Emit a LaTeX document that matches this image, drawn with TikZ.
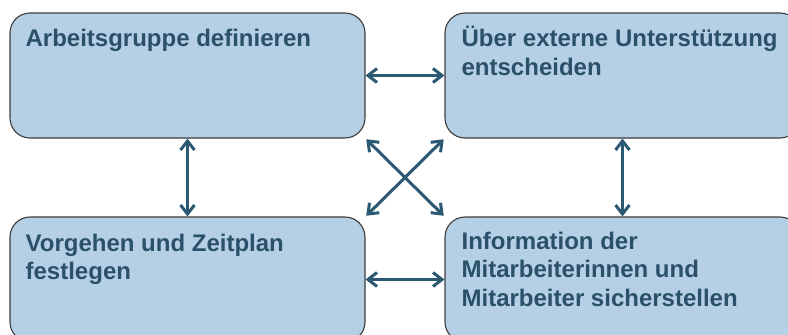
\documentclass[tikz,border=0pt]{standalone}
\usepackage{fontspec}
\setmainfont{Liberation Sans}
\usetikzlibrary{arrows.meta}
\definecolor{boxfill}{HTML}{B5D0E5}
\definecolor{boxline}{HTML}{3C3C3C}
\definecolor{arrowcol}{HTML}{2B5872}
\definecolor{textcol}{HTML}{2A5169}
\begin{document}
\begin{tikzpicture}[x=1pt,y=-1pt,
  stepbox/.style={draw=boxline,line width=1.1pt,fill=boxfill,rounded corners=20pt,
    minimum width=355pt,minimum height=125pt,inner sep=0pt},
  steptext/.style={anchor=north west,inner sep=0pt,align=left,text=textcol,
    font=\fontsize{24}{28.5}\selectfont\bfseries},
  link/.style={draw=arrowcol,line width=3pt,
    {Straight Barb[length=9pt,width=14pt]}-{Straight Barb[length=9pt,width=14pt]}}]
\useasboundingbox (0,0) rectangle (788,335);
\clip (0,0) rectangle (788,335);
% the four steps
\node[stepbox] (tl) at (187.5,75.5) {};
\node[stepbox] (tr) at (622.5,75.5) {};
\node[stepbox] (bl) at (187.5,279.5) {};
\node[stepbox] (br) at (622.5,279.5) {};
\node[steptext] (tlt) at ([xshift=16pt,yshift=-13.5pt]tl.north west) {\strut Arbeitsgruppe definieren};
\node[steptext] (trt) at ([xshift=17pt,yshift=-13.5pt]tr.north west) {\strut Über externe Unterstützung\\entscheiden};
\node[steptext] (blt) at ([xshift=16pt,yshift=-14.5pt]bl.north west) {\strut Vorgehen und Zeitplan\\festlegen};
\node[steptext] (brt) at ([xshift=17pt,yshift=-12.5pt]br.north west) {\strut Information der\\Mitarbeiterinnen und\\Mitarbeiter sicherstellen};
% mutual dependencies
\draw[link] (tl.east) -- (tr.west);
\draw[link] (bl.east) -- (br.west);
\draw[link] (tl.south) -- (bl.north);
\draw[link] (tr.south) -- (br.north);
\draw[link,shorten <=1pt,shorten >=1pt] (tl.south east) -- (br.north west);
\draw[link,shorten <=1pt,shorten >=1pt] (bl.north east) -- (tr.south west);
\end{tikzpicture}
\end{document}
